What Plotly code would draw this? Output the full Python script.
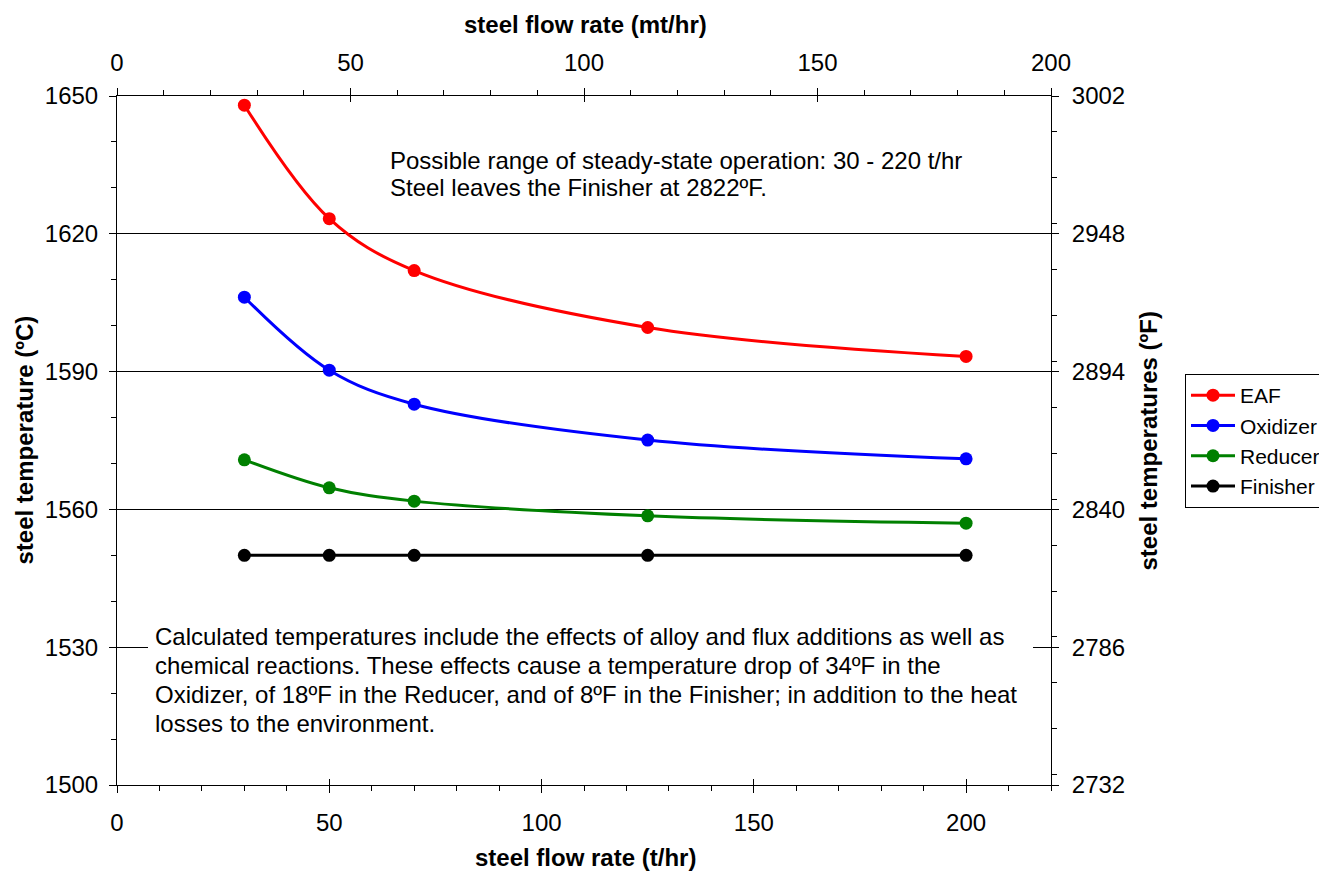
import plotly.graph_objects as go

# Steel flow rate (t/hr) at which each temperature was computed
flow_rate = [30, 50, 70, 125, 200]

# Steel temperature (ºC) leaving each vessel
eaf = [1648.0, 1623.3, 1612.0, 1599.6, 1593.3]
oxidizer = [1606.2, 1590.3, 1582.9, 1575.1, 1571.0]
reducer = [1570.8, 1564.7, 1561.8, 1558.6, 1557.0]
finisher = [1550.0, 1550.0, 1550.0, 1550.0, 1550.0]

series_names = ["EAF", "Oxidizer", "Reducer", "Finisher"]
series_values = [eaf, oxidizer, reducer, finisher]
series_colors = ["#FF0000", "#0000FF", "#008000", "#000000"]

note_top = [
    "Possible range of steady-state operation: 30 - 220 t/hr",
    "Steel leaves the Finisher at 2822ºF.",
]
note_bottom = [
    "Calculated temperatures include the effects of alloy and flux additions as well as",
    "chemical reactions. These effects cause a temperature drop of 34ºF in the",
    "Oxidizer, of 18ºF in the Reducer, and of 8ºF in the Finisher; in addition to the heat",
    "losses to the environment.",
]

FONT = "Liberation Sans, Arial, sans-serif"
W, H = 1319, 871
L, R, T, B = 117, 268, 96, 86
PW, PH = W - L - R, H - T - B


def px_x(p):
    return (p - L) / PW


def px_y(p):
    return (H - B - p) / PH


fig = go.Figure()
for i, (name, vals, col) in enumerate(zip(series_names, series_values, series_colors)):
    fig.add_trace(go.Scatter(
        x=flow_rate, y=vals, name=name, mode="lines+markers",
        line=dict(color=col, width=3, shape="spline", smoothing=1.0),
        marker=dict(color=col, size=13),
        legendgroup=name,
    ))

tick_common = dict(tickcolor="black", tickwidth=1, showgrid=False, zeroline=False)

fig.update_layout(
    width=W, height=H,
    margin=dict(l=L, r=R, t=T, b=B, autoexpand=False),
    plot_bgcolor="white", paper_bgcolor="white",
    font=dict(family=FONT, size=24, color="black"),
    showlegend=True,
    legend=dict(
        x=px_x(1185), y=px_y(374), xanchor="left", yanchor="top",
        bordercolor="black", borderwidth=1, bgcolor="white",
        font=dict(family=FONT, size=21, color="black"),
        tracegroupgap=4, traceorder="normal", itemwidth=44,
    ),
    # bottom axis: t/hr
    xaxis=dict(
        range=[0, 220], tick0=0, dtick=50, ticks="outside", ticklen=7,
        minor=dict(dtick=10, ticks="outside", ticklen=5, tickcolor="black"),
        showline=True, linecolor="black", linewidth=1,
        ticklabelstandoff=9, **tick_common,
    ),
    # top axis: mt/hr
    xaxis2=dict(
        range=[0, 200], tick0=0, dtick=50, ticks="outside", ticklen=7,
        minor=dict(dtick=10, ticks="outside", ticklen=5, tickcolor="black"),
        showline=True, linecolor="black", linewidth=1,
        overlaying="x", side="top", anchor="y",
        ticklabelstandoff=7, **tick_common,
    ),
    # inner halves of the crossing major ticks
    xaxis3=dict(range=[0, 220], tick0=0, dtick=50, ticks="inside", ticklen=6,
                showticklabels=False, showline=False, overlaying="x",
                side="bottom", anchor="y", **tick_common),
    xaxis4=dict(range=[0, 200], tick0=0, dtick=50, ticks="inside", ticklen=6,
                showticklabels=False, showline=False, overlaying="x",
                side="top", anchor="y", **tick_common),
    # left axis: ºC
    yaxis=dict(
        range=[1500, 1650], tick0=1500, dtick=30, ticks="outside", ticklen=7,
        minor=dict(dtick=10, ticks="outside", ticklen=5, tickcolor="black"),
        showline=True, linecolor="black", linewidth=1,
        showgrid=True, gridcolor="black", gridwidth=1, zeroline=False,
        tickcolor="black", tickwidth=1, ticklabelstandoff=6,
    ),
    # right axis: ºF
    yaxis2=dict(
        range=[2732, 3002], tick0=2732, dtick=54, ticks="outside", ticklen=7,
        minor=dict(dtick=18, ticks="outside", ticklen=5, tickcolor="black"),
        showline=True, linecolor="black", linewidth=1,
        overlaying="y", side="right", anchor="x",
        ticklabelstandoff=8, **tick_common,
    ),
    yaxis3=dict(range=[1500, 1650], tick0=1500, dtick=30, ticks="inside", ticklen=6,
                showticklabels=False, showline=False, overlaying="y",
                side="left", anchor="x", **tick_common),
    yaxis4=dict(range=[2732, 3002], tick0=2732, dtick=54, ticks="inside", ticklen=6,
                showticklabels=False, showline=False, overlaying="y",
                side="right", anchor="x", **tick_common),
)

# empty traces so every auxiliary axis gets its own subplot
for xa, ya in [("x2", "y"), ("x3", "y"), ("x4", "y"), ("x", "y2"), ("x", "y3"), ("x", "y4")]:
    fig.add_trace(go.Scatter(x=[], y=[], xaxis=xa, yaxis=ya, showlegend=False,
                             hoverinfo="skip"))

# white panel behind the lower note
fig.add_shape(type="rect", xref="paper", yref="paper",
              x0=px_x(148), x1=px_x(1033), y0=px_y(745), y1=px_y(618),
              fillcolor="white", line=dict(width=0), layer="above")

for i, line in enumerate(note_top):
    fig.add_annotation(text=line, xref="paper", yref="paper",
                       x=px_x(388), y=px_y(160.5 + 27 * i),
                       xanchor="left", yanchor="middle", showarrow=False,
                       font=dict(family=FONT, size=24, color="black"))

for i, line in enumerate(note_bottom):
    fig.add_annotation(text=line, xref="paper", yref="paper",
                       x=px_x(153), y=px_y(636 + 29.3 * i),
                       xanchor="left", yanchor="middle", showarrow=False,
                       font=dict(family=FONT, size=24, color="black"))

# axis titles
titles = [
    ("<b>steel flow rate (t/hr)</b>", px_x(585), px_y(857), 0),
    ("<b>steel flow rate (mt/hr)</b>", px_x(585), px_y(24), 0),
    ("<b>steel temperature (ºC)</b>", px_x(24), 0.5, -90),
    ("<b>steel temperatures (ºF)</b>", px_x(1148), 0.5, -90),
]
for text, x, y, ang in titles:
    fig.add_annotation(text=text, xref="paper", yref="paper", x=x, y=y,
                       xanchor="center", yanchor="middle", textangle=ang,
                       showarrow=False,
                       font=dict(family=FONT, size=24, color="black"))

fig.write_html("out.html")
